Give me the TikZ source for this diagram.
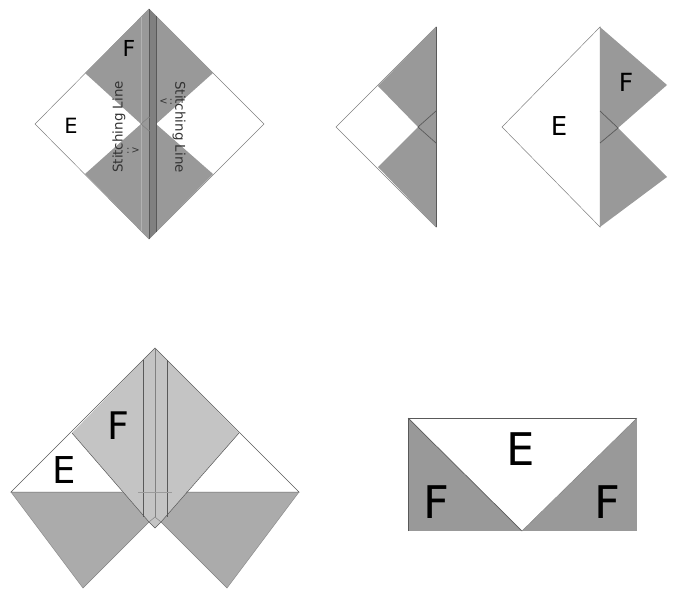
\documentclass[tikz,border=0pt]{standalone}
\usepackage{fontspec}
\setmainfont{DejaVu Sans}
\usepackage{tikz}
\definecolor{darkfold}{gray}{0.6}
\definecolor{midfold}{gray}{0.67}
\definecolor{lightfold}{gray}{0.77}
\definecolor{foldline}{gray}{0.35}
\tikzset{
  letter/.style={inner sep=0pt,font=\fontsize{#1}{#1}\selectfont},
  stitchlabel/.style={inner sep=0pt,font=\fontsize{13.4}{14}\selectfont,text=black!80},
  stitchmark/.style={inner sep=0pt,font=\fontsize{10}{10}\selectfont,text=black!80},
  edge/.style={draw=foldline,line width=0.7pt},
  thinedge/.style={draw=gray,line width=0.5pt}
}
\begin{document}
\begin{tikzpicture}[x=1pt,y=-1pt]
\useasboundingbox (0,0) rectangle (673,589);
% objects at top left:
\path[fill=white,thinedge] (149,9) -- (264,124) -- (149,239) -- (35,124) -- cycle;
\path[fill=darkfold] (149,9) -- (213,73) -- (156,124) -- (213,174) -- (149,239) -- (85,174) -- (141,124) -- (85,73) -- cycle;
\path[fill=black!50] (149,9) -- (156,16) -- (156,232) -- (149,239) -- cycle;
\draw[gray!60!white,line width=0.5pt] (141,17) -- (141,231);
\draw[foldline,line width=0.6pt] (149,9) -- (149,239);
\draw[foldline,line width=0.6pt] (156,16) -- (156,232);
\draw[gray,line width=0.5pt] (149,117) -- (156,124) -- (149,131) -- (141,124) -- cycle;
\node[letter=22] (topF) at (129,48) {F};
\node[letter=21] (topE) at (71,126) {E};
\node[stitchlabel,rotate=90] (stitchL) at (119,127) {Stitching Line};
\node[stitchlabel,rotate=-90] (stitchR) at (179,127) {Stitching Line};
\node[stitchmark] (markL) at (133,151) {:\,>};
\node[stitchmark] (markR) at (166,102) {<\,:};
% objects at top middle:
\path[fill=white,thinedge] (436,27) -- (436,227) -- (336,127) -- cycle;
\path[fill=darkfold] (436,27) -- (436,227) -- (378,167) -- (418,127) -- (378,86) -- cycle;
\draw[edge] (436,27) -- (436,227);
\draw[edge] (436,111) -- (418,127) -- (436,143);
% objects at top right:
\path[fill=white,thinedge] (600,27) -- (600,227) -- (502,127) -- cycle;
\path[fill=darkfold] (600,27) -- (667,85) -- (618,128) -- (667,177) -- (600,227) -- cycle;
\draw[edge] (600,111) -- (618,128) -- (600,143);
\node[letter=25] (rightF) at (626,82) {F};
\node[letter=26] (rightE) at (559,126) {E};
% objects at bottom left:
\path[fill=midfold] (11,492) -- (148,492) -- (149,522) -- (83,588) -- cycle;
\path[fill=midfold] (299,492) -- (160,492) -- (161,522) -- (227,588) -- cycle;
\path[fill=white] (11,492) -- (72,433) -- (122,492) -- cycle;
\path[fill=white] (299,492) -- (239,433) -- (186,492) -- cycle;
\path[fill=lightfold] (155,348) -- (239,433) -- (161,522) -- (155,528) -- (149,522) -- (72,433) -- cycle;
\draw[foldline,line width=0.5pt] (122,492) -- (11,492) -- (155,348) -- (299,492) -- (186,492);
\draw[gray,line width=0.4pt] (11,492) -- (83,588) -- (149,522);
\draw[gray,line width=0.4pt] (299,492) -- (227,588) -- (161,522);
\draw[foldline,line width=0.5pt] (72,433) -- (149,522) -- (155,528) -- (161,522) -- (239,433);
\draw[gray,line width=0.5pt] (149,522) -- (155,517) -- (161,522);
\draw[foldline,line width=0.5pt] (143,360) -- (143,517);
\draw[gray,line width=0.5pt] (155,348) -- (155,517);
\draw[foldline,line width=0.5pt] (167,360) -- (167,517);
\draw[gray!60!lightfold,line width=0.4pt] (138,492) -- (172,492);
\node[letter=38] (lowF) at (118,426) {F};
\node[letter=37] (lowE) at (64,470) {E};
% objects at bottom right:
\path[fill=darkfold] (408,418) rectangle (637,531);
\path[fill=white] (408,418) -- (637,418) -- (522,531) -- cycle;
\draw[foldline,line width=0.7pt] (408,531) -- (408,418) -- (637,418);
\draw[foldline,line width=0.7pt] (408,418) -- (522,531);
\draw[gray,line width=0.5pt] (522,531) -- (637,418);
\node[letter=45] (rectE) at (521,449) {E};
\node[letter=45] (rectFL) at (436,502) {F};
\node[letter=45] (rectFR) at (607,502) {F};
\end{tikzpicture}
\end{document}
